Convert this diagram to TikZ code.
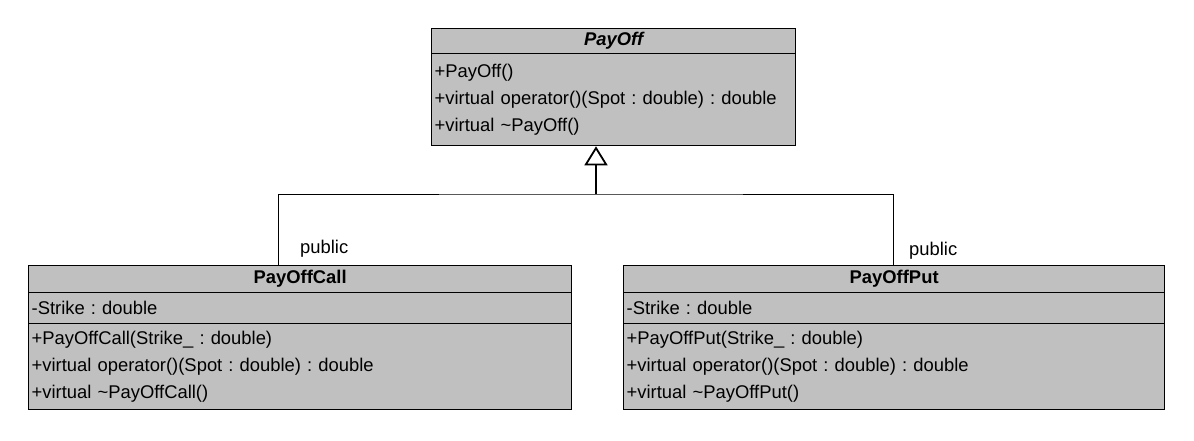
\documentclass[tikz,border=0pt]{standalone}
\usepackage{fontspec}
\setmainfont{Liberation Sans}
\usetikzlibrary{arrows.meta}
\definecolor{umlgray}{HTML}{C0C0C0}
\frenchspacing
\begin{document}
\frenchspacing
\begin{tikzpicture}[x=1pt,y=-1pt,
  compart/.style={draw=black, fill=umlgray, line width=1.3pt, inner xsep=2pt, inner ysep=0pt,
    anchor=north west, align=left, font=\fontsize{18.4}{27.3}\selectfont},
  classtitle/.style={compart, align=center, font=\fontsize{18.4}{22}\selectfont\bfseries},
  abstitle/.style={compart, align=center, font=\fontsize{18.4}{22}\selectfont\bfseries\itshape},
  assoc/.style={draw=black, line width=1pt},
  lbl/.style={inner sep=0pt, anchor=west, font=\fontsize{18.4}{22}\selectfont}]
\useasboundingbox (0,0) rectangle (1194,440);
\fill[white] (0,0) rectangle (1194,440);

% PayOff
\node[abstitle, minimum width=364pt, minimum height=25pt, text width=358pt] (payoffT) at (431,28) {PayOff};
\node[compart, minimum width=364pt, minimum height=92pt, text width=358pt] (payoffM) at (431,53)
  {+PayOff()\\+virtual operator()(Spot : double) : double\\+virtual \textasciitilde PayOff()};

% PayOffCall
\node[classtitle, minimum width=543pt, minimum height=27pt, text width=537pt] (callT) at (28,265) {PayOffCall};
\node[compart, minimum width=543pt, minimum height=31pt, text width=537pt] (callA) at (28,292) {-Strike : double};
\node[compart, minimum width=543pt, minimum height=86pt, text width=537pt, font=\fontsize{18.4}{27}\selectfont] (callM) at (28,323)
  {+PayOffCall(Strike\_ : double)\\+virtual operator()(Spot : double) : double\\+virtual \textasciitilde PayOffCall()};

% PayOffPut
\node[classtitle, minimum width=541pt, minimum height=27pt, text width=535pt] (putT) at (623,265) {PayOffPut};
\node[compart, minimum width=541pt, minimum height=31pt, text width=535pt] (putA) at (623,292) {-Strike : double};
\node[compart, minimum width=541pt, minimum height=86pt, text width=535pt, font=\fontsize{18.4}{27}\selectfont] (putM) at (623,323)
  {+PayOffPut(Strike\_ : double)\\+virtual operator()(Spot : double) : double\\+virtual \textasciitilde PayOffPut()};

% generalization
\coordinate (j) at (596,194);
\coordinate (cl) at ([xshift=250pt]callT.north west);
\coordinate (cr) at ([xshift=270pt]putT.north west);
\draw[assoc] (cl) |- (j) -| (cr);
\draw[line width=2.6pt, -{Triangle[open, length=19pt, width=23pt, line width=1.8pt]}]
  (j) -- (j |- payoffM.south);

\node[lbl] (pubL) at (300,249) {public};
\node[lbl] (pubR) at (909,251) {public};
\end{tikzpicture}
\end{document}
